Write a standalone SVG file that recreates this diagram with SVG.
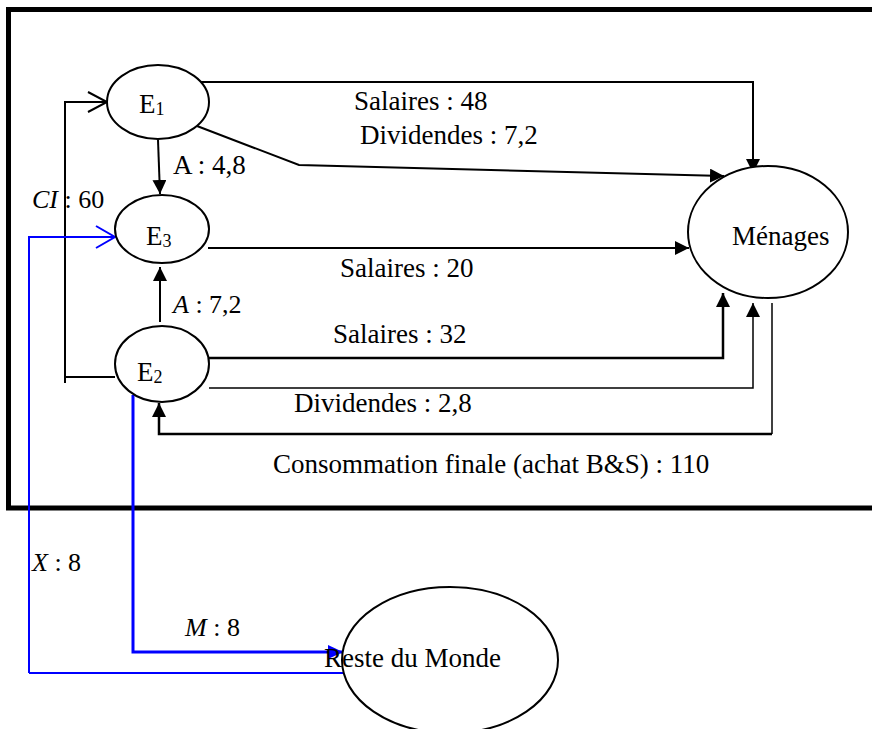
<svg xmlns="http://www.w3.org/2000/svg" width="872" height="729" viewBox="0 0 872 729">
<style>
text{font-family:"Liberation Serif","Times New Roman",serif;font-size:27px;fill:#000}
.m{font-size:26px}
.i{font-style:italic}
.node{fill:#fff;stroke:#000;stroke-width:2}
.k{fill:none;stroke:#000;stroke-width:2}
.kt{fill:none;stroke:#000;stroke-width:1.5}
.kb{fill:none;stroke:#000;stroke-width:2.5}
.b{fill:none;stroke:#0000ff;stroke-width:2}
.bb{fill:none;stroke:#0000ff;stroke-width:3}
</style>
<defs>
<marker id="ah" markerUnits="userSpaceOnUse" markerWidth="14" markerHeight="14" refX="14" refY="7" orient="auto">
<path d="M0,0 L14,7 L0,14 z" fill="#000"/>
</marker>
<marker id="ahb" markerUnits="userSpaceOnUse" markerWidth="15" markerHeight="14" refX="15" refY="7" orient="auto">
<path d="M0,0 L15,7 L0,14 z" fill="#0000ff"/>
</marker>
</defs>
<rect width="872" height="729" fill="#fff"/>
<path d="M874,9.5 H8.5 V508 H874" fill="none" stroke="#000" stroke-width="5"/>
<g id="connectors">
<path class="k" d="M196,82 H753 V173" marker-end="url(#ah)"/>
<path class="k" d="M197,126 L299,165 L724,176" marker-end="url(#ah)"/>
<path class="k" d="M158,140 L160,194" marker-end="url(#ah)"/>
<path class="k" d="M65,383 V102 H107"/>
<path class="k" d="M88,92 L107,102 L88,112"/>
<path class="k" d="M65,377 H115"/>
<path class="k" d="M208,248 H689" marker-end="url(#ah)"/>
<path class="k" d="M160,322 V267" marker-end="url(#ah)"/>
<path class="kb" d="M209,358 H723 V293" marker-end="url(#ah)"/>
<path class="kt" d="M209,388 H753 V303" marker-end="url(#ah)"/>
<path class="kt" d="M772,303 V434"/>
<path class="kb" d="M772,434 H159 V403" marker-end="url(#ah)"/>
<path class="b" d="M29,673 V237 H115"/>
<path class="b" d="M96,226 L115,237 L96,248"/>
<path class="b" d="M29,673 H344"/>
<path class="bb" d="M133,395 V652 H343" marker-end="url(#ahb)"/>
<text x="354" y="110">Salaires : 48</text>
<text x="360" y="144">Dividendes : 7,2</text>
<text x="173" y="174">A : 4,8</text>
<text class="m" x="32" y="208"><tspan class="i">CI</tspan> : 60</text>
<text x="340" y="277">Salaires : 20</text>
<text class="m" x="173" y="313"><tspan class="i">A</tspan> : 7,2</text>
<text x="333" y="343">Salaires : 32</text>
<text x="294" y="412">Dividendes : 2,8</text>
<text x="273" y="473">Consommation finale (achat B&amp;S) : 110</text>
<text class="m" x="32" y="571"><tspan class="i">X</tspan> : 8</text>
<text class="m" x="185" y="636"><tspan class="i">M</tspan> : 8</text>
</g>
<g id="E1">
<ellipse class="node" cx="158" cy="102" rx="51" ry="37"/>
<text x="139" y="113">E<tspan font-size="18" dy="2">1</tspan></text>
</g>
<g id="E3">
<ellipse class="node" cx="162" cy="229" rx="47" ry="34"/>
<text x="146" y="245">E<tspan font-size="18" dy="2">3</tspan></text>
</g>
<g id="E2">
<ellipse class="node" cx="162" cy="364" rx="47" ry="38"/>
<text x="137" y="381">E<tspan font-size="18" dy="2">2</tspan></text>
</g>
<g id="Menages">
<ellipse class="node" cx="768" cy="232" rx="80" ry="66"/>
<text x="732" y="245">Ménages</text>
</g>
<g id="ResteDuMonde">
<ellipse cx="450" cy="660" rx="108" ry="73" fill="none" stroke="#000" stroke-width="2"/>
<text x="324" y="667">Reste du Monde</text>
</g>
</svg>
